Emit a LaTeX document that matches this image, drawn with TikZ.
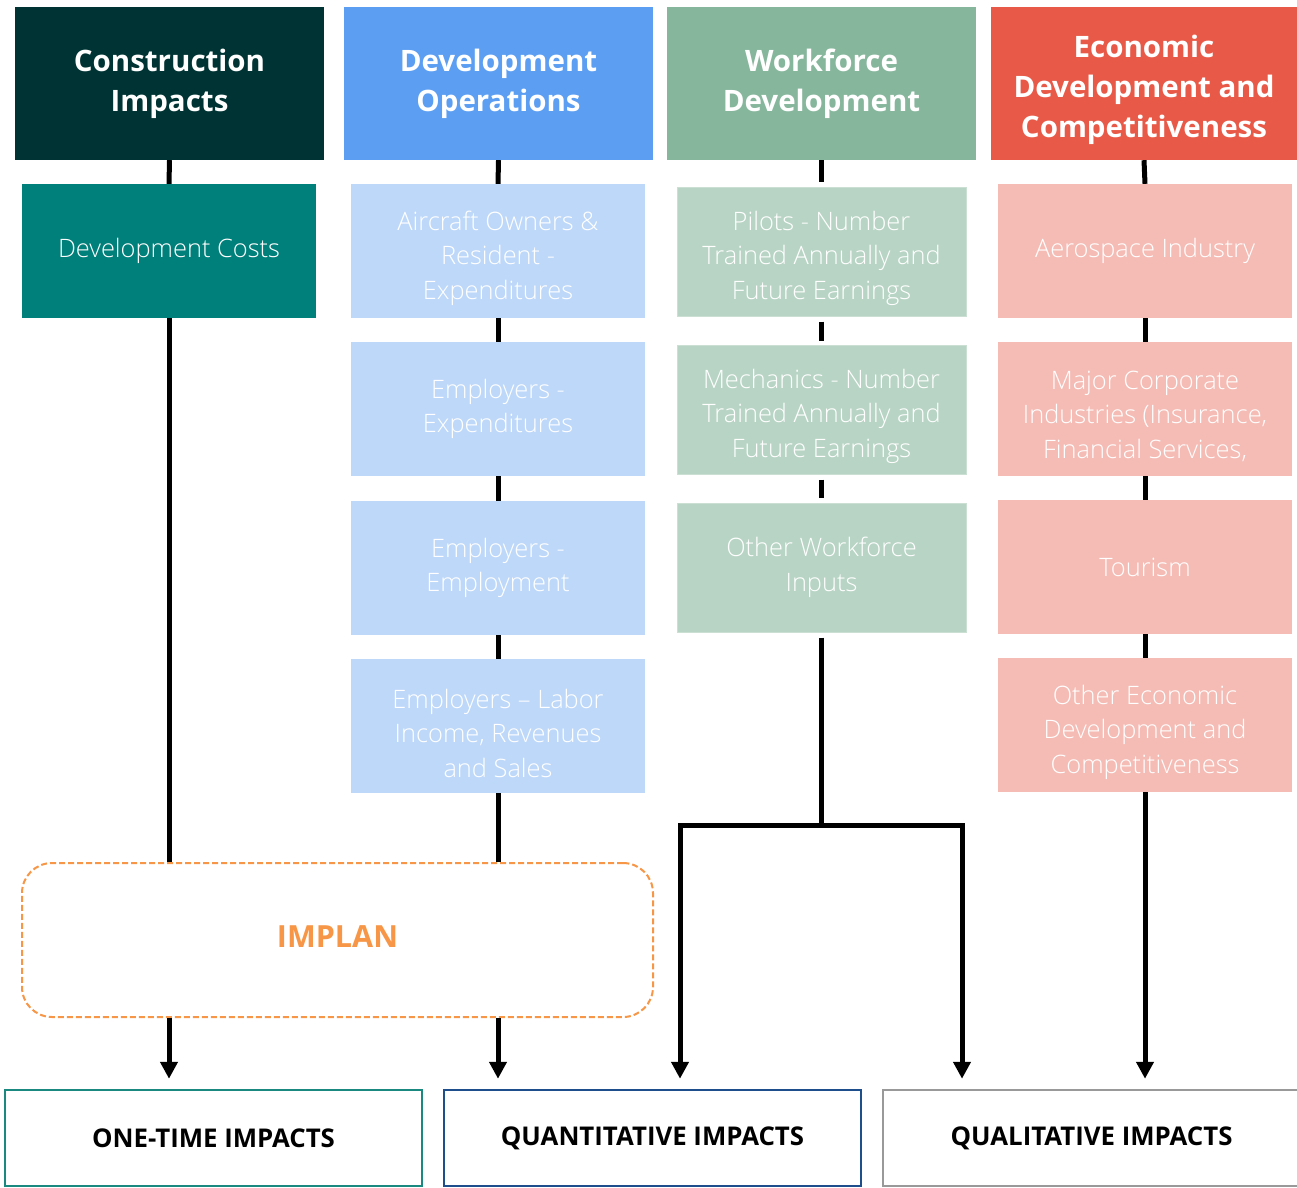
\documentclass[tikz,border=0pt]{standalone}
\usepackage{fontspec}
\setmainfont{Open Sans}
\newfontfamily\lightfont{Open Sans Light}
\usetikzlibrary{arrows.meta}

\definecolor{conHead}{HTML}{003333}
\definecolor{conSub}{HTML}{00807A}
\definecolor{devHead}{HTML}{5B9EF2}
\definecolor{devSub}{HTML}{BED8FA}
\definecolor{wfHead}{HTML}{86B69C}
\definecolor{wfSub}{HTML}{B8D4C4}
\definecolor{wfEdge}{HTML}{CBE0D3}
\definecolor{ecoHead}{HTML}{E85A47}
\definecolor{ecoSub}{HTML}{F5BCB5}
\definecolor{implanOrange}{HTML}{F79646}
\definecolor{oneEdge}{HTML}{1A8A80}
\definecolor{quantEdge}{HTML}{1F4E8C}
\definecolor{qualEdge}{HTML}{999999}

\tikzset{
  hdrfont/.style={text=white, align=center, font=\bfseries\fontsize{29.5}{40}\selectfont},
  hdr/.style={hdrfont, inner sep=0pt, minimum width=309pt, minimum height=153pt},
  subfont/.style={text=white, align=center, inner sep=0pt, font=\lightfont\fontsize{25.4}{34.5}\selectfont},
  subbox/.style={subfont, minimum width=294pt, minimum height=134pt},
  wfbox/.style={subbox, minimum width=289pt, minimum height=129pt, fill=wfSub, draw=wfEdge, line width=1pt},
  outbox/.style={inner sep=0pt, minimum height=96pt, line width=2.5pt, fill=white,
    font=\bfseries\fontsize{25.8}{30}\selectfont},
  conn/.style={line width=5pt, black},
  arr/.style={conn, line join=miter, -{Triangle[width=17pt,length=17pt]}},
}

\begin{document}
\begin{tikzpicture}[x=1pt, y=-1pt]
\useasboundingbox (0,0) rectangle (1297,1187);

% column headers
\node[hdr, fill=conHead] (h1) at (169.5,83.5) {Construction\\Impacts};
\node[hdr, fill=devHead] (h2) at (498.5,83.5) {Development\\Operations};
\node[hdr, fill=wfHead]  (h3) at (821.5,83.5) {Workforce\\Development};
\node[hdr, fill=ecoHead, minimum width=306pt] (h4) at (1144,83.5) {};
\node[hdrfont] (h4t) at (1144,90) {Economic\\Development and\\Competitiveness};

% construction column
\node[subbox, fill=conSub] (c1) at (169,251) {Development Costs};

% development operations column
\node[subbox, fill=devSub] (d1) at (498,251) {};
\node[subfont] (d1t) at (498,258) {Aircraft Owners \&\\Resident -\\Expenditures};
\node[subbox, fill=devSub] (d2) at (498,409) {Employers -\\Expenditures};
\node[subbox, fill=devSub] (d3) at (498,568) {Employers -\\Employment};
\node[subbox, fill=devSub] (d4) at (498,726) {};
\node[subfont] (d4t) at (498,733) {Employers – Labor\\Income, Revenues\\and Sales};

% workforce column
\node[wfbox] (w1) at (821.5,251.5) {};
\node[subfont] (w1t) at (821.5,258) {Pilots - Number\\Trained Annually and\\Future Earnings};
\node[wfbox] (w2) at (821.5,409.5) {};
\node[subfont] (w2t) at (821.5,416) {Mechanics - Number\\Trained Annually and\\Future Earnings};
\node[wfbox] (w3) at (821.5,567.5) {Other Workforce\\Inputs};

% economic development column
\node[subbox, fill=ecoSub] (e1) at (1145,251) {Aerospace Industry};
\node[subbox, fill=ecoSub] (e2) at (1145,409) {};
\node[subfont] (e2t) at (1145,416) {Major Corporate\\Industries (Insurance,\\Financial Services,};
\node[subbox, fill=ecoSub] (e3) at (1145,567) {Tourism};
\node[subbox, fill=ecoSub] (e4) at (1145,725) {};
\node[subfont] (e4t) at (1145,732) {Other Economic\\Development and\\Competitiveness};

% input-output model
\node[draw=implanOrange, line width=2pt, dash pattern=on 6pt off 3pt, rounded corners=30pt,
  minimum width=631pt, minimum height=154pt, inner sep=0pt] (implan) at (337.5,940) {};
\node[text=implanOrange, font=\bfseries\fontsize{30.5}{34}\selectfont, inner sep=0pt]
  (implant) at (337.5,937) {IMPLAN};

% outcome boxes
\node[outbox, draw=oneEdge, minimum width=417pt] (b1) at (213.5,1138) {ONE-TIME IMPACTS};
\node[outbox, draw=quantEdge, minimum width=417pt] (b2) at (652.5,1138) {QUANTITATIVE IMPACTS};
\node[outbox, draw=qualEdge, minimum width=417pt] (b3) at (1091.5,1138) {QUALITATIVE IMPACTS};

% construction links
\draw[conn] (h1.south) -- (c1.north);
\draw[conn] (c1.south) -- (c1.south |- implan.north);
\draw[arr] (c1.south |- implan.south) -- ([yshift=10pt]c1.south |- b1.north);

% development operations links
\draw[conn] (h2.south) -- (d1.north);
\draw[conn] (d1.south) -- (d2.north);
\draw[conn] (d2.south) -- (d3.north);
\draw[conn] (d3.south) -- (d4.north);
\draw[conn] (d4.south) -- (d4.south |- implan.north);
\draw[arr] (d4.south |- implan.south) -- ([yshift=10pt]d4.south |- b2.north);

% workforce links
\draw[conn, shorten >=5pt] (h3.south) -- (w1.north);
\draw[conn, shorten >=4pt, shorten <=5pt] (w1.south) -- (w2.north);
\draw[conn, shorten >=5pt, shorten <=5pt] (w2.south) -- (w3.north);
\coordinate (wb) at (821.5,825);
\coordinate (wl) at (680,825);
\coordinate (wr) at (962,825);
\draw[conn, shorten <=5pt] (w3.south) -- (wb);
\draw[arr] (wb) -- (wl) -- ([yshift=10pt]wl |- b2.north);
\draw[arr] (wb) -- (wr) -- ([yshift=10pt]wr |- b3.north);

% economic development links
\draw[conn] (h4.south) -- (e1.north);
\draw[conn] (e1.south) -- (e2.north);
\draw[conn] (e2.south) -- (e3.north);
\draw[conn] (e3.south) -- (e4.north);
\draw[arr] (e4.south) -- ([yshift=10pt]e4.south |- b3.north);
\end{tikzpicture}
\end{document}
